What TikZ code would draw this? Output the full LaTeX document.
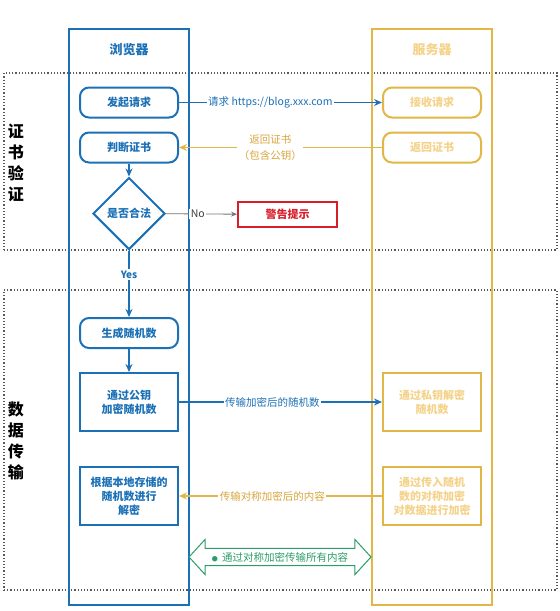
\documentclass[tikz,border=0pt]{standalone}
\usepackage{fontspec}
\setmainfont{Noto Sans CJK SC}
\usepackage{tikz}
\usetikzlibrary{positioning,arrows.meta,shapes.geometric,shapes.arrows}
\definecolor{llqblue}{HTML}{1B70B6}
\definecolor{fwqgold}{HTML}{E2B647}
\definecolor{fwqpale}{HTML}{F4D28A}
\definecolor{fwqtext}{HTML}{D9A53C}
\definecolor{jgred}{HTML}{D81E2A}
\definecolor{dcgreen}{HTML}{2A9D68}

\begin{document}
\begin{tikzpicture}[x=1pt, y=-1pt,
      font=\fontsize{11}{14}\selectfont\bfseries,
      lane/.style={draw, line width=2.5pt, minimum width=120pt, minimum height=576pt, inner sep=0pt},
      zone/.style={draw=black!65, dotted, line width=1.2pt, minimum width=553pt, inner sep=0pt},
      bro/.style={draw=llqblue, text=llqblue, line width=2pt, minimum width=98pt, align=center, inner sep=2pt},
      srv/.style={draw=fwqgold, text=fwqpale, line width=2pt, minimum width=98pt, align=center, inner sep=2pt},
      arred/.style={rounded corners=9pt, minimum height=30pt},
      quad/.style={minimum height=58pt},
      seta/.style={-{Stealth[length=8pt,width=7pt]}, line width=1.6pt},
      rot/.style={fill=white, inner sep=1.5pt, font=\fontsize{10.5}{15}\selectfont\mdseries},
      secao/.style={align=center, font=\fontsize{16}{21}\selectfont\bfseries}]
    \useasboundingbox (0,0) rectangle (560,611);
    % faixas pontilhadas
    \node[zone, minimum height=177pt] (cert) at (280.5,161.5) {};
    \node[zone, minimum height=300pt] (dados) at (280.5,440) {};
    \node[secao] (certlab) at (16,163) {证\\书\\验\\证};
    \node[secao] (dadoslab) at (16,441) {数\\据\\传\\输};
    % raias
    \node[lane, draw=llqblue] (browser) at (129,317) {};
    \node[lane, draw=fwqgold] (server) at (432,317) {};
    \node[text=llqblue, font=\fontsize{13}{15}\selectfont\bfseries] (browsertit) at (129,50) {浏览器};
    \node[text=fwqpale, font=\fontsize{13}{15}\selectfont\bfseries] (servertit) at (432,50) {服务器};
    % navegador
    \node[bro, arred] (req) at (129,102.5) {发起请求};
    \node[bro, arred] (judge) at (129,147.5) {判断证书};
    \node[diamond, draw=llqblue, text=llqblue, line width=2pt, aspect=1, minimum size=72pt, inner sep=0pt] (legal) at (129,213.5) {是否合法};
    \node[draw=jgred, text=jgred, line width=2pt, minimum width=99pt, minimum height=25pt, inner sep=2pt] (warn) at (287.5,214.5) {警告提示};
    \node[bro, arred] (gen) at (129,333) {生成随机数};
    \node[bro, quad] (enc) at (129,402) {通过公钥\\加密随机数};
    \node[bro, quad] (dec) at (129,496) {根据本地存储的\\随机数进行\\解密};
    % servidor
    \node[srv, arred] (recv) at (432,102.5) {接收请求};
    \node[srv, arred] (ret) at (432,147.5) {返回证书};
    \node[srv, quad] (priv) at (432,402) {通过私钥解密\\随机数};
    \node[srv, quad] (sym) at (432,496) {通过传入随机\\数的对称加密\\对数据进行加密};
    % setas
    \draw[seta, llqblue] (req) -- node[rot, text=llqblue, pos=0.45] {请求 https://blog.xxx.com} (recv);
    \draw[seta, fwqgold] (ret) -- node[rot, text=fwqtext, align=center, font=\fontsize{10.5}{16}\selectfont\mdseries, pos=0.55] {返回证书\\（包含公钥）} (judge);
    \draw[seta, llqblue] (judge) -- (legal);
    \draw[-{Stealth[length=6pt,width=5pt]}, line width=0.8pt, black!55] (legal) -- node[rot, text=black!75, pos=0.45] {No} (warn);
    \draw[seta, llqblue] (legal) -- node[rot, text=llqblue, font=\fontsize{10}{12}\selectfont\bfseries, pos=0.36] {Yes} (gen);
    \draw[seta, llqblue] (gen) -- (enc);
    \draw[seta, llqblue] (enc) -- node[rot, text=llqblue, pos=0.46] {传输加密后的随机数} (priv);
    \draw[seta, fwqgold] (sym) -- node[rot, text=fwqtext, pos=0.54] {传输对称加密后的内容} (dec);
    % seta dupla
    \node[double arrow, draw=dcgreen, line width=1pt, text=dcgreen, fill=white,
          double arrow head extend=8.5pt, double arrow tip angle=95,
          minimum height=182pt, minimum width=35pt, inner sep=3pt,
          font=\fontsize{10.5}{12}\selectfont\mdseries] (allenc) at (280,557) {{\fontsize{6}{8}\selectfont ●}\, 通过对称加密传输所有内容};
  \end{tikzpicture}
\end{document}
